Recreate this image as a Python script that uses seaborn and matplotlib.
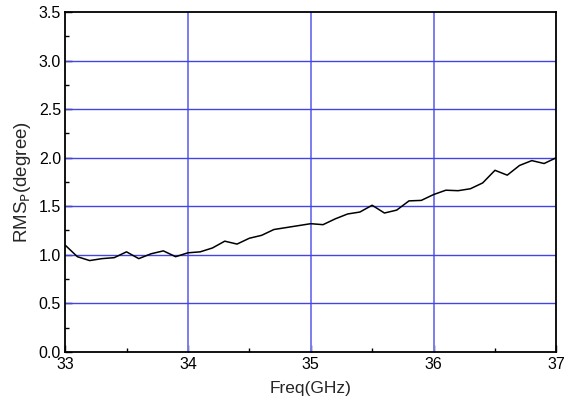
import numpy as np
import pandas as pd
import matplotlib
matplotlib.use('Agg')
import matplotlib.pyplot as plt
from matplotlib.ticker import MultipleLocator
import seaborn as sns

# data
freq = [33.0, 33.1, 33.2, 33.3, 33.4, 33.5, 33.6, 33.7, 33.8, 33.9,
        34.0, 34.1, 34.2, 34.3, 34.4, 34.5, 34.6, 34.7, 34.8, 34.9,
        35.0, 35.1, 35.2, 35.3, 35.4, 35.5, 35.6, 35.7, 35.8, 35.9,
        36.0, 36.1, 36.2, 36.3, 36.4, 36.5, 36.6, 36.7, 36.8, 36.9, 37.0]
rms = [1.10, 0.98, 0.94, 0.96, 0.97, 1.03, 0.96, 1.01, 1.04, 0.98,
       1.02, 1.03, 1.07, 1.14, 1.11, 1.17, 1.20, 1.26, 1.28, 1.30,
       1.32, 1.31, 1.37, 1.42, 1.44, 1.51, 1.43, 1.46, 1.555, 1.56,
       1.62, 1.665, 1.66, 1.68, 1.74, 1.87, 1.82, 1.92, 1.97, 1.94, 2.00]
xticks = [33, 34, 35, 36, 37]
yticks = [0.0, 0.5, 1.0, 1.5, 2.0, 2.5, 3.0, 3.5]

df = pd.DataFrame({"freq": freq, "rms": rms})

sns.set_style("ticks")
plt.rcParams['font.family'] = ['Liberation Sans', 'DejaVu Sans']

fig = plt.figure(figsize=(5.66, 4.03), dpi=100)
ax = fig.add_axes([0.115, 0.127, 0.868, 0.843])

# grid
for x in xticks[1:-1]:
    ax.axvline(x, color="#7c7cf0", lw=1.4, zorder=1)
for y in yticks[1:-1]:
    ax.axhline(y, color="#4444e4", lw=1.0, zorder=1)

sns.lineplot(data=df, x="freq", y="rms", color="black", lw=1.1, ax=ax, zorder=3)

ax.set_xlim(33, 37)
ax.set_ylim(0, 3.5)
ax.set_xticks(xticks)
ax.set_yticks(yticks)
ax.set_yticklabels([f"{v:.1f}" for v in yticks])
ax.xaxis.set_minor_locator(MultipleLocator(0.5))
ax.yaxis.set_minor_locator(MultipleLocator(0.25))
ax.tick_params(which="both", direction="in", top=False, right=False, labelsize=11.5, colors="black")
ax.tick_params(which="major", length=5, width=1, pad=3)
ax.tick_params(axis="x", which="major", pad=4)
ax.tick_params(which="minor", length=3, width=1)
for s in ax.spines.values():
    s.set_linewidth(1.3)
    s.set_color("black")

ax.set_xlabel("Freq(GHz)", fontsize=12.5, labelpad=6)
ax.set_ylabel("RMS$_\\mathrm{P}$(degree)", fontsize=13.5, labelpad=4)

plt.savefig("out.png", dpi=100)
plt.close()
